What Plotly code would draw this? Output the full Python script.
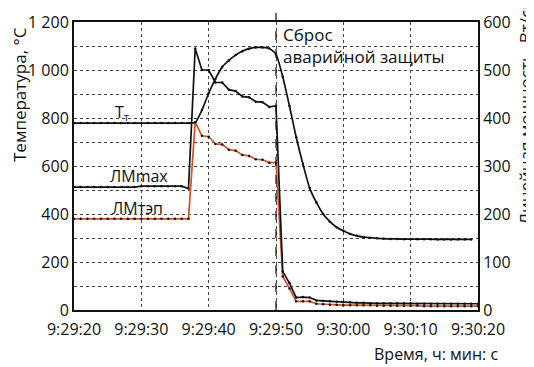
import plotly.graph_objects as go

# time, seconds after 9:29:00
time_s = list(range(20, 81))

# cladding temperature, °C (left axis)
t_clad = [779]*18 + [781, 833, 903, 963, 1012, 1040, 1062, 1078, 1089, 1094, 1094, 1090,
          1065, 972, 850, 720, 608, 508, 448, 400, 368, 345, 330, 317, 309, 304, 301,
          299, 297, 296, 296, 295, 295, 295, 295, 295, 294, 294, 294, 294, 294, 294]

# max linear power, W/cm (right axis)
lm_max = [256]*10 + [258]*6 + [258, 253, 545, 500, 500, 474, 474, 459, 456, 445, 443, 434, 433,
          423, 425, 80, 56, 26, 27, 26, 20, 19, 18, 17, 16, 16, 15, 15, 14, 14, 14, 14, 14,
          14, 14, 13, 13, 13, 13, 13, 13, 13, 13, 13, 13, 13]

# fuel-element linear power, W/cm (right axis)
lm_tep = [190]*18 + [391, 363, 361, 346, 345, 334, 332, 323, 321, 314, 313, 307,
          307, 70, 45, 18, 18, 18, 13, 12, 11, 11, 10, 10, 10, 10, 10, 9, 9, 9, 9, 9,
          9, 9, 8, 8, 8, 8, 8, 8, 8, 8, 8, 8, 8]

x_tickvals = [20, 30, 40, 50, 60, 70, 80]
x_ticktext = ["9:29:20", "9:29:30", "9:29:40", "9:29:50", "9:30:00", "9:30:10", "9:30:20"]
y_tickvals = [0, 200, 400, 600, 800, 1000, 1200]
y_ticktext = ["0", "200", "400", "600", "800", "1 000", "1 200"]
y2_tickvals = [0, 100, 200, 300, 400, 500, 600]
scram_time = 50

FONT = "Open Sans"
OFF = 8                      # page body margin of the html page
W, H = 534 - OFF, 367 - OFF
# plot area in page pixels
L, R, T, B = 74, 478, 22, 310


def px(xp):
    return (xp - L) / (R - L)


def py(yp):
    return (B - yp) / (B - T)


fig = go.Figure()
fig.add_trace(go.Scatter(x=time_s, y=lm_tep, yaxis="y2", mode="lines+markers",
                         line=dict(color="#d4521f", width=1.7),
                         marker=dict(color="#111", size=2.5), showlegend=False))
fig.add_trace(go.Scatter(x=time_s, y=lm_max, yaxis="y2", mode="lines+markers",
                         line=dict(color="#111", width=1.7),
                         marker=dict(color="#111", size=2.5), showlegend=False))
fig.add_trace(go.Scatter(x=time_s, y=t_clad, mode="lines+markers",
                         line=dict(color="#111", width=1.7, shape="spline", smoothing=0.6),
                         marker=dict(color="#111", size=2.5), showlegend=False))

grid = dict(showgrid=True, gridcolor="#444", griddash="dot", gridwidth=1)

fig.update_layout(
    width=W, height=H,
    margin=dict(l=L - OFF, r=W - (R - OFF), t=T - OFF, b=H - (B - OFF), autoexpand=False),
    paper_bgcolor="white", plot_bgcolor="white",
    font=dict(family=FONT, size=16, color="#111"),
    xaxis=dict(range=[20, 80], tickvals=x_tickvals, ticktext=x_ticktext, automargin=False,
               showline=True, linecolor="#111", linewidth=2, mirror=True,
               ticks="", ticklabelstandoff=4, zeroline=False, **grid),
    yaxis=dict(range=[0, 1200], tickvals=y_tickvals, ticktext=y_ticktext, automargin=False,
               showline=True, linecolor="#111", linewidth=2, mirror=True,
               ticks="", zeroline=False, **grid,
               minor=dict(dtick=100, showgrid=True, gridcolor="#444", griddash="dot", gridwidth=1)),
    yaxis2=dict(range=[0, 600], tickvals=y2_tickvals, overlaying="y", side="right",
                automargin=False, showgrid=False, showline=True, linecolor="#111", linewidth=2,
                ticks="", zeroline=False),
)

fig.add_shape(type="line", xref="x", yref="paper", x0=scram_time, x1=scram_time,
              y0=0, y1=py(8), line=dict(color="#2a1410", width=1.3, dash="dash"))

ann = [
    dict(text="Температура, °С", x=px(19), y=py(94), textangle=-90, size=17),
    dict(text="Линейная мощность, Вт/см", x=px(525), y=py(111), textangle=-90, size=17),
    dict(text="Время, ч: мин: с", x=px(500), y=py(354), xanchor="right", size=16),
    dict(text="Сброс<br>аварийной защиты", x=px(281), y=py(45), xanchor="left", align="left", size=17),
    dict(text="T<sub>т</sub>", x=px(122), y=py(112), size=16),
    dict(text="ЛМmax", x=px(139), y=py(176), size=16),
    dict(text="ЛМтэп", x=px(137), y=py(208), size=16),
]
for a in ann:
    fig.add_annotation(text=a["text"], xref="paper", yref="paper", x=a["x"], y=a["y"],
                       xanchor=a.get("xanchor", "center"), yanchor="middle",
                       align=a.get("align", "center"), textangle=a.get("textangle", 0),
                       showarrow=False, font=dict(family=FONT, size=a["size"], color="#111"))

fig.write_html("out.html")
